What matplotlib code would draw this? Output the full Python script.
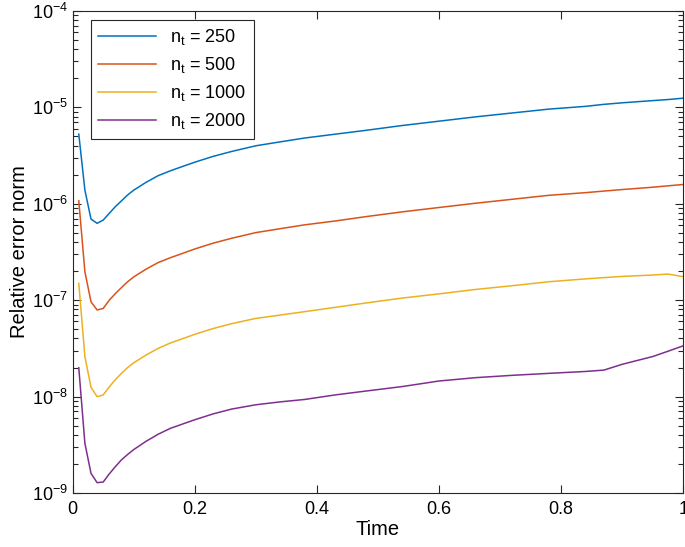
import math
import matplotlib
matplotlib.use("Agg")
import matplotlib.pyplot as plt
from matplotlib.ticker import FuncFormatter, LogLocator, FixedLocator

plt.rcParams["font.family"] = ["Liberation Sans", "DejaVu Sans"]
plt.rcParams["mathtext.fontset"] = "custom"
plt.rcParams["mathtext.rm"] = "Liberation Sans"
plt.rcParams["mathtext.it"] = "Liberation Sans"

# data
tempo = [0.01, 0.02, 0.03, 0.04, 0.05, 0.06, 0.07, 0.08, 0.09, 0.10, 0.12,
         0.14, 0.16, 0.18, 0.20, 0.23, 0.26, 0.30, 0.34, 0.38, 0.43, 0.48,
         0.54, 0.60, 0.66, 0.72, 0.78, 0.84, 0.87, 0.90, 0.95, 0.975, 1.00]

erro_250 = [5.25e-6, 1.38e-6, 6.92e-7, 6.25e-7, 6.76e-7, 7.94e-7, 9.33e-7, 1.07e-6,
            1.23e-6, 1.38e-6, 1.66e-6, 1.95e-6, 2.19e-6, 2.43e-6, 2.69e-6, 3.09e-6,
            3.47e-6, 3.98e-6, 4.37e-6, 4.79e-6, 5.25e-6, 5.75e-6, 6.46e-6, 7.16e-6,
            7.94e-6, 8.71e-6, 9.55e-6, 1.02e-5, 1.07e-5, 1.11e-5, 1.17e-5, 1.20e-5,
            1.24e-5]
erro_500 = [1.07e-6, 1.97e-7, 9.6e-8, 7.9e-8, 8.2e-8, 1.0e-7, 1.17e-7, 1.35e-7,
            1.55e-7, 1.74e-7, 2.09e-7, 2.45e-7, 2.75e-7, 3.05e-7, 3.39e-7, 3.89e-7,
            4.37e-7, 5.01e-7, 5.50e-7, 6.03e-7, 6.61e-7, 7.33e-7, 8.22e-7, 9.12e-7,
            1.01e-6, 1.11e-6, 1.22e-6, 1.30e-6, 1.35e-6, 1.40e-6, 1.48e-6, 1.53e-6,
            1.58e-6]
erro_1000 = [1.49e-7, 2.59e-8, 1.25e-8, 9.96e-9, 1.04e-8, 1.26e-8, 1.50e-8, 1.74e-8,
             2.0e-8, 2.24e-8, 2.69e-8, 3.16e-8, 3.59e-8, 3.98e-8, 4.42e-8, 5.07e-8,
             5.69e-8, 6.46e-8, 7.0e-8, 7.59e-8, 8.41e-8, 9.33e-8, 1.05e-7, 1.16e-7,
             1.29e-7, 1.41e-7, 1.55e-7, 1.66e-7, 1.71e-7, 1.76e-7, 1.82e-7, 1.86e-7,
             1.75e-7]
erro_2000 = [1.99e-8, 3.27e-9, 1.6e-9, 1.28e-9, 1.3e-9, 1.58e-9, 1.88e-9, 2.21e-9,
             2.51e-9, 2.82e-9, 3.43e-9, 4.07e-9, 4.68e-9, 5.19e-9, 5.75e-9, 6.61e-9,
             7.41e-9, 8.22e-9, 8.81e-9, 9.33e-9, 1.04e-8, 1.14e-8, 1.27e-8, 1.45e-8,
             1.57e-8, 1.66e-8, 1.74e-8, 1.82e-8, 1.88e-8, 2.16e-8, 2.60e-8, 2.95e-8,
             3.36e-8]

series = [erro_250, erro_500, erro_1000, erro_2000]
n_t = ["250", "500", "1000", "2000"]
cores = ["#0072BD", "#D95319", "#EDB120", "#7E2F8E"]

x_ticks = [0, 0.2, 0.4, 0.6, 0.8, 1]
x_labels = ["0", "0.2", "0.4", "0.6", "0.8", "1"]

fig = plt.figure(figsize=(6.85, 5.47), dpi=100)
ax = fig.add_axes([0.1061, 0.0987, 0.8914, 0.8817])

for y, n, c in zip(series, n_t, cores):
    ax.plot(tempo, y, color=c, linewidth=1.1, label=r"n$_\mathregular{t}$ = " + n)

ax.set_yscale("log")
ax.set_xlim(0, 1)
ax.set_ylim(1e-9, 1e-4)

ax.xaxis.set_major_locator(FixedLocator(x_ticks))
ax.set_xticklabels(x_labels)
ax.yaxis.set_major_locator(LogLocator(base=10, numticks=10))
ax.yaxis.set_minor_locator(LogLocator(base=10, subs=range(2, 10), numticks=20))
ax.yaxis.set_major_formatter(FuncFormatter(
    lambda v, p: r"$\mathregular{10^{%d}}$" % round(math.log10(v))))

ax.tick_params(which="both", direction="in", top=True, right=True,
               colors="#262626", labelcolor="black", labelsize=13)
ax.tick_params(which="major", length=6, width=0.8)
ax.tick_params(which="minor", length=3.5, width=0.8)
ax.tick_params(axis="x", pad=6)
for s in ax.spines.values():
    s.set_color("#262626")
    s.set_linewidth(0.8)

ax.set_xlabel("Time", fontsize=14.5, labelpad=1)
ax.set_ylabel("Relative error norm", fontsize=14.5, labelpad=2)

leg = ax.legend(loc="upper left", bbox_to_anchor=(0.03, 0.981), borderaxespad=0,
                fontsize=13, handlelength=3.2, fancybox=False, framealpha=1,
                edgecolor="#262626", labelspacing=0.45)
leg.get_frame().set_linewidth(0.8)

plt.savefig("out.png", dpi=100)
